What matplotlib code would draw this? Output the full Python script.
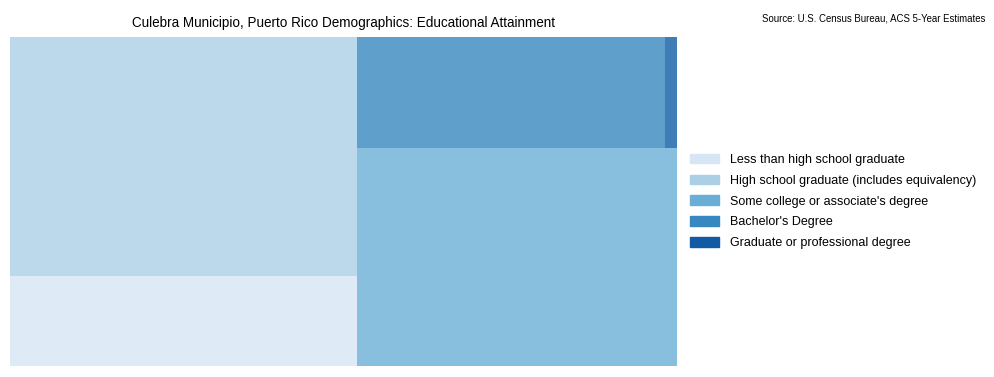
import matplotlib.pyplot as plt
import matplotlib.patches as mpatches
import seaborn as sns

plt.rcParams['font.family'] = ['Liberation Sans', 'DejaVu Sans']

# datos
categorias = [
    "Less than high school graduate",
    "High school graduate (includes equivalency)",
    "Some college or associate's degree",
    "Bachelor's Degree",
    "Graduate or professional degree",
]
poblacion = [185, 491, 413, 203, 8]


def normalizar(valores, dx, dy):
    total = sum(valores)
    return [v * dx * dy / total for v in valores]


def layout_fila(valores, x, y, dx, dy):
    ancho = sum(valores) / dy
    rects = []
    for v in valores:
        rects.append((x, y, ancho, v / ancho))
        y += v / ancho
    return rects


def layout_col(valores, x, y, dx, dy):
    alto = sum(valores) / dx
    rects = []
    for v in valores:
        rects.append((x, y, v / alto, alto))
        x += v / alto
    return rects


def layout(valores, x, y, dx, dy):
    if dx >= dy:
        return layout_fila(valores, x, y, dx, dy)
    return layout_col(valores, x, y, dx, dy)


def sobrante(valores, x, y, dx, dy):
    if dx >= dy:
        ancho = sum(valores) / dy
        return x + ancho, y, dx - ancho, dy
    alto = sum(valores) / dx
    return x, y + alto, dx, dy - alto


def peor_ratio(valores, x, y, dx, dy):
    return max(max(w / h, h / w) for (_, _, w, h) in layout(valores, x, y, dx, dy))


def squarify(valores, x, y, dx, dy):
    if len(valores) == 0:
        return []
    if len(valores) == 1:
        return layout(valores, x, y, dx, dy)
    i = 1
    while i < len(valores) and peor_ratio(valores[:i], x, y, dx, dy) >= peor_ratio(valores[:i + 1], x, y, dx, dy):
        i += 1
    actual = valores[:i]
    resto = valores[i:]
    return layout(actual, x, y, dx, dy) + squarify(resto, *sobrante(actual, x, y, dx, dy))


colores = sns.color_palette("Blues", len(categorias))
rects = squarify(normalizar(poblacion, 100, 100), 0, 0, 100, 100)

fig = plt.figure(figsize=(9.94, 3.77), dpi=100)
ax = fig.add_axes([10 / 994, 11 / 377, 667 / 994, 329 / 377])
for (x, y, w, h), c in zip(rects, colores):
    ax.bar(x, h, width=w, bottom=y, align='edge', color=c, alpha=0.8, linewidth=0)
ax.set_xlim(0, 100)
ax.set_ylim(0, 100)
ax.axis('off')
ax.set_title("Culebra Municipio, Puerto Rico Demographics: Educational Attainment", fontsize=9.75, pad=7)

handles = [mpatches.Patch(color=c, label=l) for c, l in zip(colores, categorias)]
ax.legend(handles=handles, loc='center left', bbox_to_anchor=(1.003, 0.5), frameon=False,
          fontsize=9, handlelength=2.3, handleheight=0.8, labelspacing=0.7, handletextpad=0.85)

fig.text(0.991, 0.965, "Source: U.S. Census Bureau, ACS 5-Year Estimates", ha='right', va='top', fontsize=6.9)

plt.savefig("out.png", dpi=100)
